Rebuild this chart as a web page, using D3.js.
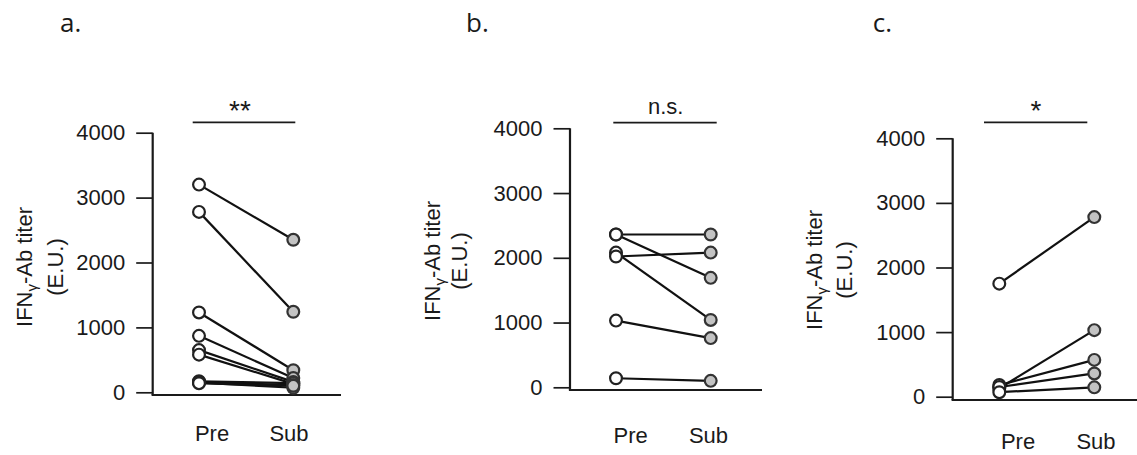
<!DOCTYPE html>
<html>
<head>
<meta charset="utf-8">
<script src="https://cdn.jsdelivr.net/npm/d3@7"></script>
<style>
  html, body { margin: 0; padding: 0; background: #fff; }
  svg { display: block; }
</style>
</head>
<body>
<svg id="chart" width="1137" height="455"></svg>
<script>
// ---------- data ----------
const categories = ["Pre", "Sub"];
const yTicks = [0, 1000, 2000, 3000, 4000];
const panelLabels = ["a.", "b.", "c."];
const sigLabels = ["**", "n.s.", "*"];

// panel a (paired subjects)
const preA = [3200, 2780, 1230, 870, 650, 580, 170, 160, 150, 140];
const subA = [2350, 1240, 340, 220, 160, 130, 140, 110, 70, 100];
// panel b
const preB = [2360, 2360, 2080, 2020, 1030, 140];
const subB = [2360, 1690, 1040, 2080, 760, 100];
// panel c
const preC = [1750, 130, 180, 150, 70];
const subC = [2780, 1030, 570, 360, 145];

const seriesPre = [preA, preB, preC];
const seriesSub = [subA, subB, subC];

// ---------- layout (positions / sizes only) ----------
const layout = [
  { axisX: 152.7, yTop: 132.7, yZero: 392.3, base: 395, xEnd: 341, px: [199, 293.3], lx: [212, 289], ly: 441,
    sig: [192.7, 295.3, 122.3], sigX: 240, titleX: 60, lab: [32, 63, 267] },
  { axisX: 570, yTop: 128.3, yZero: 387.3, base: 390, xEnd: 762, px: [616, 710.7], lx: [630.7, 708.5], ly: 443,
    sig: [613.3, 716.7, 122.7], sigX: 665.7, titleX: 466, lab: [440, 467, 261] },
  { axisX: 952.7, yTop: 138.3, yZero: 396.7, base: 400, xEnd: 1137, px: [999.3, 1094.3], lx: [1018, 1096], ly: 449,
    sig: [984, 1087.3, 122.3], sigX: 1036, titleX: 872.7, lab: [822, 852, 270] }
];

const ink = "#1a1a1a";
const fs = 22;
const svg = d3.select("#chart");

layout.forEach((L, i) => {
  const g = svg.append("g");
  const y = d3.scaleLinear().domain([0, 4000]).range([L.yZero, L.yTop]);
  const x = d3.scalePoint().domain(categories).range(L.px);
  const xl = d3.scalePoint().domain(categories).range(L.lx);

  // panel title
  g.append("text")
    .attr("x", L.titleX).attr("y", 32.3)
    .attr("font-family", "'Open Sans', 'Noto Sans', sans-serif")
    .attr("font-size", 26).attr("fill", ink)
    .text(panelLabels[i]);

  // y axis
  const ax = g.append("g")
    .attr("transform", `translate(${L.axisX},0)`)
    .call(d3.axisLeft(y).tickValues(yTicks).tickSize(16.5).tickPadding(11).tickFormat(d3.format("d")));
  ax.select(".domain").remove();
  ax.selectAll(".tick line").attr("stroke", ink).attr("stroke-width", 1.7);
  ax.selectAll(".tick text")
    .attr("font-family", "'Liberation Sans', Arial, sans-serif")
    .attr("font-size", fs).attr("fill", ink);

  // axis lines
  g.append("line")
    .attr("x1", L.axisX).attr("x2", L.axisX)
    .attr("y1", y(4000)).attr("y2", L.base)
    .attr("stroke", ink).attr("stroke-width", 2.2);
  g.append("line")
    .attr("x1", L.axisX - 1.1).attr("x2", L.xEnd)
    .attr("y1", L.base).attr("y2", L.base)
    .attr("stroke", ink).attr("stroke-width", 2.2);

  // category labels
  g.selectAll("text.cat").data(categories).enter().append("text")
    .attr("class", "cat")
    .attr("x", d => xl(d)).attr("y", L.ly)
    .attr("text-anchor", "middle")
    .attr("font-family", "'Liberation Sans', Arial, sans-serif")
    .attr("font-size", fs).attr("fill", ink)
    .text(d => d);

  // y label (rotated, two lines)
  const lab = g.append("text")
    .attr("transform", `translate(${L.lab[0]},${L.lab[2]}) rotate(-90)`)
    .attr("text-anchor", "middle")
    .attr("font-family", "'Liberation Sans', Arial, sans-serif")
    .attr("font-size", fs).attr("fill", ink);
  lab.append("tspan").text("IFN");
  lab.append("tspan").attr("font-size", 15).attr("dy", 5).text("γ");
  lab.append("tspan").attr("dy", -5).text("-Ab titer");
  g.append("text")
    .attr("transform", `translate(${L.lab[1]},${L.lab[2]}) rotate(-90)`)
    .attr("text-anchor", "middle")
    .attr("font-family", "'Liberation Sans', Arial, sans-serif")
    .attr("font-size", fs).attr("fill", ink)
    .text("(E.U.)");

  // significance bar
  g.append("line")
    .attr("x1", L.sig[0]).attr("x2", L.sig[1])
    .attr("y1", L.sig[2]).attr("y2", L.sig[2])
    .attr("stroke", ink).attr("stroke-width", 1.7);
  const isStar = sigLabels[i].indexOf("*") >= 0;
  g.append("text")
    .attr("x", L.sigX).attr("y", isStar ? 120 : 114.3)
    .attr("text-anchor", "middle")
    .attr("font-family", "'Liberation Sans', Arial, sans-serif")
    .attr("font-size", isStar ? 28 : fs).attr("fill", ink)
    .text(sigLabels[i]);

  // paired data
  const pairs = seriesPre[i].map((v, k) => ({ pre: v, sub: seriesSub[i][k] }));
  g.selectAll("line.pair").data(pairs).enter().append("line")
    .attr("class", "pair")
    .attr("x1", x("Pre")).attr("x2", x("Sub"))
    .attr("y1", d => y(d.pre)).attr("y2", d => y(d.sub))
    .attr("stroke", "#111").attr("stroke-width", 2.2);
  g.selectAll("circle.pre").data(pairs).enter().append("circle")
    .attr("class", "pre")
    .attr("cx", x("Pre")).attr("cy", d => y(d.pre)).attr("r", 5.9)
    .attr("fill", "#fff").attr("stroke", "#222").attr("stroke-width", 2.2);
  g.selectAll("circle.sub").data(pairs).enter().append("circle")
    .attr("class", "sub")
    .attr("cx", x("Sub")).attr("cy", d => y(d.sub)).attr("r", 5.9)
    .attr("fill", "#c3c3c3").attr("stroke", "#333").attr("stroke-width", 2.2);
});
</script>
</body>
</html>
